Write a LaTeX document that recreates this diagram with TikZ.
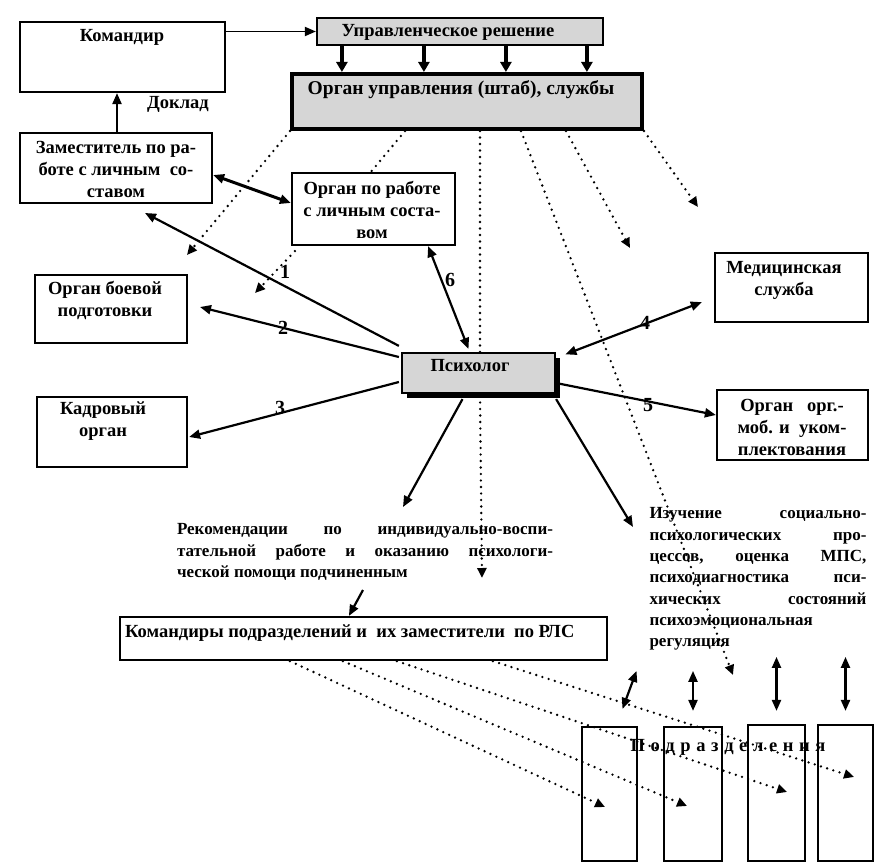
\documentclass[tikz,border=0pt]{standalone}
\usepackage{fontspec}
\setmainfont{Liberation Serif}
\usetikzlibrary{arrows.meta,shadows,calc,fit}
\begin{document}
\begin{tikzpicture}[x=1pt,y=-1pt,
  every node/.style={font=\fontsize{18.5}{22}\selectfont\bfseries},
  box/.style={draw, line width=2.2pt, inner sep=0pt},
  shade/.style={fill=black!16},
  txt/.style={align=center, inner sep=0pt},
  para/.style={align=left, inner sep=0pt, font=\fontsize{17}{21.3}\selectfont\bfseries},
  tipA/.style={line width=2.2pt,-{Triangle[length=11pt,width=9pt]}},
  bigA/.style={line width=3.6pt,-{Triangle[length=10pt,width=11pt]}},
  dblA/.style={line width=2.2pt,{Triangle[length=11pt,width=9pt]}-{Triangle[length=11pt,width=9pt]}},
  dots/.style={line width=2.6pt, line cap=round, dash pattern=on 0pt off 6.5pt},
  dotA/.style={dots,-{Triangle[length=10pt,width=9pt]}},
  num/.style={font=\fontsize{20}{22}\selectfont\bfseries, inner sep=0pt}
]
\useasboundingbox (0,0) rectangle (896,864);
\fill[white] (0,0) rectangle (896,864);

% ---- boxes
\node[box, fit={(20,22) (225,92)}] (kom) {};
\node[box, shade, fit={(317,18) (603,45)}] (upr) {};
\node[box, shade, line width=4pt, fit={(292,74) (642,129)}] (shtab) {};
\node[box, fit={(20,133) (212,203)}] (zam) {};
\node[box, fit={(292,173) (455,245)}] (org) {};
\node[box, fit={(35,275) (187,343)}] (bp) {};
\node[box, fit={(37,397) (187,467)}] (kadr) {};
\node[box, fit={(715,253) (868,322)}] (med) {};
\node[box, fit={(717,390) (868,460)}] (orgmob) {};
\node[box, fit={(120,617) (607,660)}] (komp) {};
\node[box, fit={(582,727) (637,861)}] (podr1) {};
\node[box, fit={(664,727) (722,861)}] (podr2) {};
\node[box, fit={(748,725) (805,861)}] (podr3) {};
\node[box, fit={(818,725) (873,861)}] (podr4) {};

% ---- free ends
\coordinate (d1) at (187,255);
\coordinate (d4) at (733,675);
\coordinate (d5) at (630,248);
\coordinate (d6) at (698,207);
\coordinate (d7) at (255,293);
\coordinate (vend) at (482,578);
\coordinate (z1) at (145,213);
\coordinate (c2) at (200,307);
\coordinate (r1) at (403,507);
\coordinate (r2) at (633,527);
\coordinate (rs) at (363,590);
\coordinate (e1) at (605,807);
\coordinate (e2) at (687,806);
\coordinate (e3) at (787,792);
\coordinate (e4) at (854,777);
\coordinate (v) at ($(shtab.south west)+(190,0)$);

% ---- dotted lines from the staff
\draw[dotA] (shtab.south west) -- (d1);
\draw[dots] ($(shtab.south west)+(115,0)$) -- ($(org.north west)+(80,0)$);
\draw[dots] (v) -- (v |- 0,353);
\draw[dotA] (v |- 0,396) -- (vend);
\draw[dotA] ($(shtab.south west)+(231,0)$) -- (d4);
\draw[dotA] ($(shtab.south west)+(276,0)$) -- (d5);
\draw[dotA] (shtab.south east) -- (d6);
\draw[dotA] ($(org.south west)+(4,5)$) -- (d7);

% ---- psychologist box
\node[box, shade, drop shadow={shadow xshift=5pt, shadow yshift=-5pt, fill=black, opacity=1}, fit={(402,353) (555,393)}] (psy) {};

% ---- solid connectors
\draw[tipA, line width=1.8pt] (kom.east |- upr.west) -- (upr.west);
\foreach \f/\n in {26/u1,108/u2,190/u3,271/u4}{
  \coordinate (\n) at ($(upr.south west)+(\f,0)$);
  \draw[bigA] (\n) -- (\n |- shtab.north);
}
\draw[tipA] (zam.north -| 117,0) -- (kom.south -| 117,0);
\draw[dblA, line width=3pt] ($(zam.east)+(0,7)$) -- ($(org.west)+(0,-6)$);

\draw[tipA] ($(psy.north west)+(-2,-6)$) -- (z1);
\draw[tipA] ($(psy.west)+(-2,-16)$) -- (c2);
\draw[tipA] ($(psy.west)+(-2,9)$) -- ($(kadr.east)+(1,5)$);
\draw[dblA] ($(psy.north)+(-10,-3)$) -- ($(org.south east)+(-28,0)$);
\draw[dblA, shorten <=10pt, shorten >=13pt] ($(psy.north east)+(0,6)$) -- ($(med.west)+(0,10)$);
\draw[tipA] ($(psy.east)+(0,10)$) -- ($(orgmob.west)+(0,-10)$);
\draw[tipA] ($(psy.south)+(-16,5)$) -- (r1);
\draw[tipA] ($(psy.south east)+(0,5)$) -- (r2);
\draw[tipA] (rs) -- ($(komp.north west)+(230,0)$);

% ---- dotted lines to the units
\draw[dotA] ($(komp.south west)+(171,0)$) -- (e1);
\draw[dotA] ($(komp.south west)+(224,0)$) -- (e2);
\draw[dotA] ($(komp.south west)+(278,0)$) -- (e3);
\draw[dotA] ($(komp.south west)+(374,0)$) -- (e4);

% ---- double arrows above units
\draw[dblA] ($(podr1.north)+(27,-55)$) -- ($(podr1.north)+(13,-17)$);
\draw[dblA] ($(podr2.north)+(0,-55)$) -- ($(podr2.north)+(0,-15)$);
\draw[dblA] ($(podr3.north)+(0,-67)$) -- ($(podr3.north)+(0,-13)$);
\draw[dblA] ($(podr4.north)+(0,-67)$) -- ($(podr4.north)+(0,-13)$);

% ---- texts
\node[txt] at (122,37) {Командир};
\node[txt] at (448,32) {Управленческое решение};
\node[txt, font=\fontsize{19.5}{22}\selectfont\bfseries] at (461,90) {Орган управления (штаб), службы};
\node[txt] at (178,104) {Доклад};
\node[txt] at (116,169) {Заместитель по ра-\\боте с личным~ со-\\ставом};
\node[txt] at (372,210) {Орган по работе\\с личным соста-\\вом};
\node[txt] at (105,300) {Орган боевой\\подготовки};
\node[txt] at (103,421) {Кадровый\\орган};
\node[txt] at (470,366) {Психолог};
\node[txt] at (784,280) {Медицинская\\служба};
\node[txt] at (792,427) {Орган~~ орг.-\\моб. и~ уком-\\плектования};
\node[txt, anchor=west] at (125,633) {Командиры подразделений и~ их заместители~ по РЛС};
\node[para] at (365,552) {\hbox to 376pt{Рекомендации\hfill по\hfill индивидуально-воспи-}\\
\hbox to 376pt{тательной\hfill работе\hfill и\hfill оказанию\hfill психологи-}\\
ческой помощи подчиненным};
\node[para] at (758,579) {\hbox to 217pt{Изучение\hfill социально-}\\
\hbox to 217pt{психологических\hfill про-}\\
\hbox to 217pt{цессов,\hfill оценка\hfill МПС,}\\
\hbox to 217pt{психодиагностика\hfill пси-}\\
\hbox to 217pt{хических\hfill состояний}\\
психоэмоциональная\\
регуляция};
\node[txt] at (728,747) {\hbox to 195pt{П\hfill о\hfill д\hfill р\hfill а\hfill з\hfill д\hfill е\hfill л\hfill е\hfill н\hfill и\hfill я}};

\node[num] at (285,272) {1};
\node[num] at (283,328) {2};
\node[num] at (280,408) {3};
\node[num] at (645,323) {4};
\node[num] at (648,405) {5};
\node[num] at (450,280) {6};
\end{tikzpicture}
\end{document}
